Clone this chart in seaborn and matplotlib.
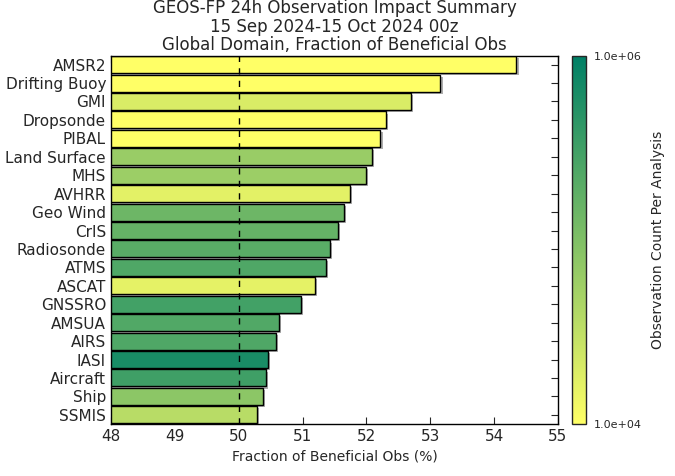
import numpy as np
import pandas as pd
import matplotlib
matplotlib.use("Agg")
import matplotlib.pyplot as plt
import matplotlib.colors as mcolors
import matplotlib.patheffects as pe
import seaborn as sns

# observation types, sorted by fraction of beneficial obs
obs_types = ['AMSR2', 'Drifting Buoy', 'GMI', 'Dropsonde', 'PIBAL', 'Land Surface',
             'MHS', 'AVHRR', 'Geo Wind', 'CrIS', 'Radiosonde', 'ATMS', 'ASCAT',
             'GNSSRO', 'AMSUA', 'AIRS', 'IASI', 'Aircraft', 'Ship', 'SSMIS']
frac_benef = [54.35, 53.16, 52.70, 52.30, 52.22, 52.09, 52.00, 51.74, 51.65, 51.56,
              51.43, 51.36, 51.20, 50.98, 50.63, 50.59, 50.46, 50.43, 50.38, 50.29]
obs_count = [9.0e3, 8.0e3, 2.0e4, 3.0e3, 5.0e3, 6.3e4, 6.0e4, 1.66e4, 1.4e5, 1.6e5,
             2.0e5, 2.4e5, 1.6e4, 3.0e5, 2.3e5, 2.4e5, 6.3e5, 3.2e5, 8.0e4, 3.6e4]

sns.set_style('ticks')
plt.rcParams['font.family'] = ['DejaVu Sans']

df = pd.DataFrame({'obs': obs_types, 'frac': frac_benef, 'count': obs_count})

cmap = plt.get_cmap('summer_r')
norm = mcolors.LogNorm(vmin=1e4, vmax=1e6)
colors = [cmap(norm(c)) for c in obs_count]

fig = plt.figure(figsize=(6.75, 4.76), dpi=100)
ax = fig.add_axes([0.1644, 0.1092, 0.6622, 0.7732])
cax = fig.add_axes([0.8474, 0.1092, 0.0207, 0.7732])

sns.barplot(data=df, y='obs', x='frac', hue='obs', palette=colors, legend=False,
            orient='h', width=0.92, edgecolor='black', linewidth=1.0,
            saturation=1, ax=ax)

for p in ax.patches:
    p.set_path_effects([pe.SimplePatchShadow(offset=(1.5, -1.5), shadow_rgbFace='0.6', alpha=0.8),
                        pe.Normal()])

ax.axvline(50, color='black', ls=(0, (4.5, 4.5)), lw=1, zorder=5)
ax.set_xlim(48, 55)
ax.set_ylim(len(obs_types) - 0.5, -0.47)
ax.set_xticks(range(48, 56))
ax.tick_params(axis='both', direction='in', top=True, right=True, length=5,
               labelsize=11, width=0.8)
ax.set_ylabel('')
ax.set_xlabel('Fraction of Beneficial Obs (%)', fontsize=10)
for s in ax.spines.values():
    s.set_linewidth(1.0)
    s.set_color('black')

ax.set_title('GEOS-FP 24h Observation Impact Summary\n15 Sep 2024-15 Oct 2024 00z\n'
             'Global Domain, Fraction of Beneficial Obs', fontsize=12,
             linespacing=1.05, pad=4)

sm = matplotlib.cm.ScalarMappable(norm=norm, cmap=cmap)
cb = fig.colorbar(sm, cax=cax, ticks=[1e4, 1e6], format='%.1e')
cb.minorticks_off()
cax.tick_params(length=0, labelsize=8, pad=6)
cb.set_label('Observation Count Per Analysis', fontsize=10, labelpad=6)
cb.outline.set_linewidth(1.0)

fig.savefig('out.png', dpi=100)
